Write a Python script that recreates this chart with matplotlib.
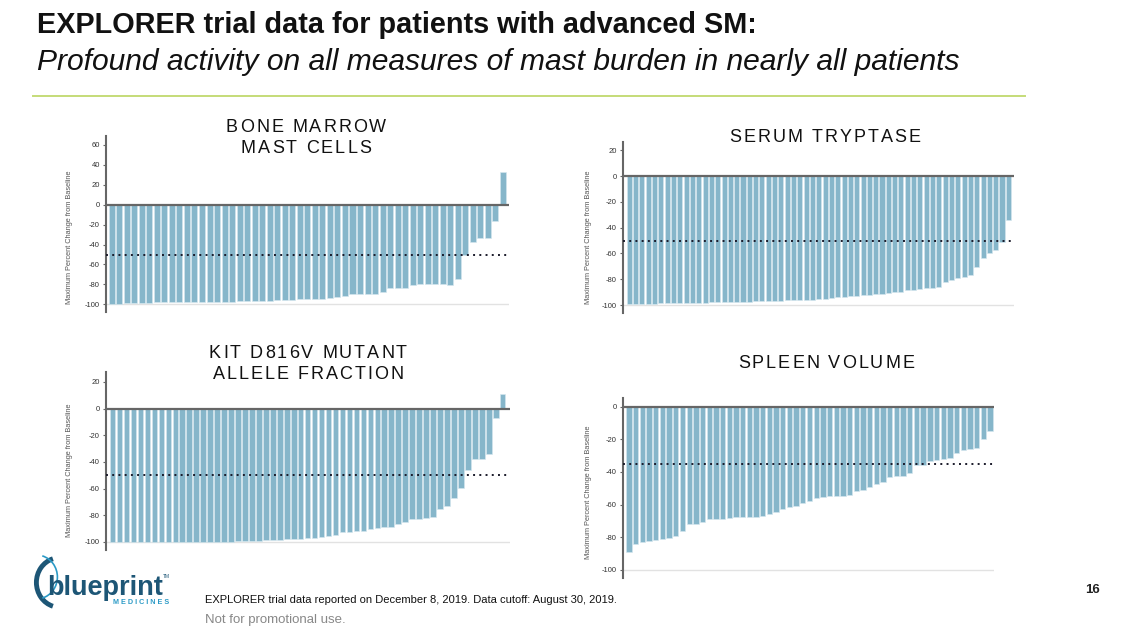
import numpy as np
import matplotlib.pyplot as plt
from matplotlib.patches import Arc
from matplotlib.font_manager import findfont, FontProperties
from matplotlib.ft2font import FT2Font

plt.rcParams["font.family"] = ["Liberation Sans", "DejaVu Sans"]
plt.rcParams["axes.unicode_minus"] = False

# %% data (max percent change from baseline, one value per patient, sorted)
bone_marrow = [-99.5, -99.3, -98.5, -98.4, -98.3, -98.3, -98, -98, -98, -97.9,
               -97.9, -97.8, -97.6, -97.5, -97.4, -97.3, -97.2, -97, -96.7, -96.4,
               -96.3, -96.2, -96, -95.8, -95.2, -95, -95, -95, -94.3, -93.3,
               -92.7, -92, -90, -90, -90, -90, -87.3, -84, -83.3, -83.3,
               -81, -80, -80, -80, -80, -80.7, -75, -50, -37.3, -33.3,
               -33.3, -16, 33.3]

tryptase = [-99.5, -99.4, -99.2, -99, -98.9, -98.8, -98.7, -98.6, -98.5, -98.4,
            -98.3, -98.2, -98.1, -98, -97.9, -97.8, -97.6, -97.5, -97.4, -97.3,
            -97.2, -97.1, -97, -96.8, -96.6, -96.5, -96.3, -96.1, -95.9, -95.8,
            -95.7, -95.3, -94.6, -94.1, -93.8, -93.3, -92.8, -92.3, -92, -91.5,
            -91.2, -90.7, -90.2, -89.7, -88.7, -88.2, -87.6, -87.1, -86.6, -86.1,
            -82.5, -80.4, -79.4, -78.4, -76.8, -70.6, -63.7, -59.3, -57.2, -51,
            -34]

kit_vaf = [-100, -100, -100, -100, -100, -100, -100, -100, -100, -100,
           -99.9, -99.9, -99.9, -99.9, -99.9, -99.9, -99.9, -99.75, -99.5, -99.4,
           -99.25, -99, -98.75, -98.5, -98.25, -98, -97.75, -97.5, -97.25, -97,
           -96.5, -95.5, -94.5, -92.75, -92.75, -91.5, -91.5, -90.5, -89.5, -88.5,
           -88.5, -86.75, -85, -83, -82.5, -82, -81.25, -75, -73, -67,
           -59.25, -46.25, -37.5, -37.5, -33.75, -6.75, 11.25]

spleen = [-89, -84.5, -82.8, -82.3, -81.9, -81.3, -80.9, -79.2, -76.3, -72.2,
          -72.2, -70.5, -68.9, -68.9, -68.9, -68.1, -67.9, -67.7, -67.5, -67.5,
          -66.8, -65.8, -64.8, -62.8, -61.5, -60.9, -59, -57.6, -56.2, -55.6,
          -55, -54.9, -54.9, -54.3, -51.6, -51, -49.2, -47.2, -46.2, -43.3,
          -42.4, -42.2, -40.5, -36, -36, -33, -32.7, -32.3, -31.5, -28.5,
          -26.5, -26, -25.5, -19.8, -15]

titles = ["BONE MARROW\nMAST CELLS", "SERUM TRYPTASE",
          "KIT D816V MUTANT\nALLELE FRACTION", "SPLEEN VOLUME"]
thresholds = [-50, -50, -50, -35]
yticks = [np.arange(-100, 61, 20), np.arange(-100, 21, 20),
          np.arange(-100, 21, 20), np.arange(-100, 1, 20)]

# %% layout
W, H = 1134, 635
fig = plt.figure(figsize=(W / 100, H / 100), dpi=100)


def px_axes(x0, y0, x1, y1):
    # pixel box (top-left origin) -> figure axes
    return fig.add_axes([x0 / W, 1 - y1 / H, (x1 - x0) / W, (y1 - y0) / H])


def spaced_text(cx, cy, s, size, spacing, family="Liberation Sans", **kw):
    # centred text with extra letter spacing (pixels), one line at a time
    font = FT2Font(findfont(FontProperties(family=family)))
    font.set_size(size, 100)
    lines = s.split("\n")
    line_h = size * 100 / 72 * 1.2
    for i, line in enumerate(lines):
        advs = []
        for ch in line:
            g = font.load_char(ord(ch))
            advs.append(g.linearHoriAdvance / 65536 + spacing)
        total = sum(advs) - spacing
        x = cx - total / 2
        y = cy + (i - (len(lines) - 1) / 2) * line_h
        for ch, a in zip(line, advs):
            fig.text(x / W, 1 - y / H, ch, ha="left", va="center",
                     fontsize=size, family=family, **kw)
            x += a


panels = [
    dict(box=(106, 136, 509, 312), ylim=(-107.7, 69), xpad=(0.76, 0.8),
         title_xy=(306, 138), label_xy=(73, 237)),
    dict(box=(623, 142, 1014, 313), ylim=(-106.2, 26.4), xpad=(1.0, 0.9),
         title_xy=(825, 137), label_xy=(592, 237)),
    dict(box=(106, 372, 510, 550), ylim=(-106, 27.5), xpad=(0.95, 1.05),
         title_xy=(308, 364), label_xy=(73, 470)),
    dict(box=(623, 398, 994, 578), ylim=(-105.2, 5.5), xpad=(0.9, 0.6),
         title_xy=(826, 363), label_xy=(592, 492)),
]
datasets = [bone_marrow, tryptase, kit_vaf, spleen]

bar_color = "#86b6ca"
for p, vals, title, thr, ticks in zip(panels, datasets, titles, thresholds, yticks):
    ax = px_axes(*p["box"])
    n = len(vals)
    x = np.arange(n)
    ax.bar(x, vals, width=0.8, color=bar_color, edgecolor="#d6e8ef", linewidth=0.4, zorder=2)
    ax.set_xlim(-p["xpad"][0], n - 1 + p["xpad"][1])
    ax.set_ylim(*p["ylim"])
    ax.axhline(0, color="#666666", lw=1.6, zorder=3)
    ax.axhline(-100, color="#e2e2e2", lw=1.0, zorder=1)
    ax.axhline(thr, color="#1a1a2a", lw=1.4, ls=(0, (1, 2.2)), zorder=4)
    for s in ["top", "right", "bottom"]:
        ax.spines[s].set_visible(False)
    ax.spines["left"].set_color("#666666")
    ax.spines["left"].set_linewidth(1.5)
    ax.set_xticks([])
    ax.set_yticks(ticks)
    ax.tick_params(axis="y", length=2.5, width=0.8, color="#666666",
                   labelsize=5.5, labelcolor="#333333", pad=2)
    ax.set_ylabel("Maximum Percent Change from Baseline", fontsize=5.3,
                  color="#555555")
    x0, y0, x1, y1 = p["box"]
    lx, ly = p["label_xy"]
    ax.yaxis.set_label_coords((lx - x0) / (x1 - x0), (y1 - ly) / (y1 - y0))
    tx, ty = p["title_xy"]
    spaced_text(tx, ty, title, 13, 2.0, color="#111111")

# %% header
fig.text(37 / W, 1 - 25 / H, "EXPLORER trial data for patients with advanced SM:",
         fontsize=20.8, fontweight="bold", va="center", color="#111111")
fig.text(37 / W, 1 - 62 / H,
         "Profound activity on all measures of mast burden in nearly all patients",
         fontsize=21.6, style="italic", va="center", color="#111111")
fig.add_artist(plt.Line2D([33 / W, 1025 / W], [1 - 96 / H, 1 - 96 / H],
                          color="#c5dc78", lw=1.4))

# %% footer
fig.text(205 / W, 1 - 600 / H,
         "EXPLORER trial data reported on December 8, 2019. Data cutoff: August 30, 2019.",
         fontsize=8, va="center", color="#111111")
fig.text(205 / W, 1 - 620 / H, "Not for promotional use.", fontsize=9.5,
         va="center", color="#888888")
fig.text(1093 / W, 1 - 590 / H, "16", fontsize=9.5, fontweight="bold",
         ha="center", va="center", color="#222222")

# logo
fig.text(47 / W, 1 - 588 / H, "blueprint", fontsize=19.5, fontweight="bold",
         va="center", color="#1d5676")
fig.text(163 / W, 1 - 577 / H, "TM", fontsize=3.5, va="center", color="#1d5676")
fig.text(113 / W, 1 - 603 / H, "M E D I C I N E S", fontsize=5.2, va="center",
         color="#2b9ac6", fontweight="bold")
lax = px_axes(28, 555, 70, 610)
lax.set_xlim(0, 1)
lax.set_ylim(0, 1)
lax.axis("off")
lax.add_patch(Arc((0.75, 0.5), 1.1, 0.9, theta1=110, theta2=250, lw=3.5, color="#1d5676"))
lax.add_patch(Arc((0.2, 0.6), 1.0, 0.8, theta1=-70, theta2=70, lw=1.2, color="#2b9ac6"))

fig.savefig("out.png", dpi=100)
